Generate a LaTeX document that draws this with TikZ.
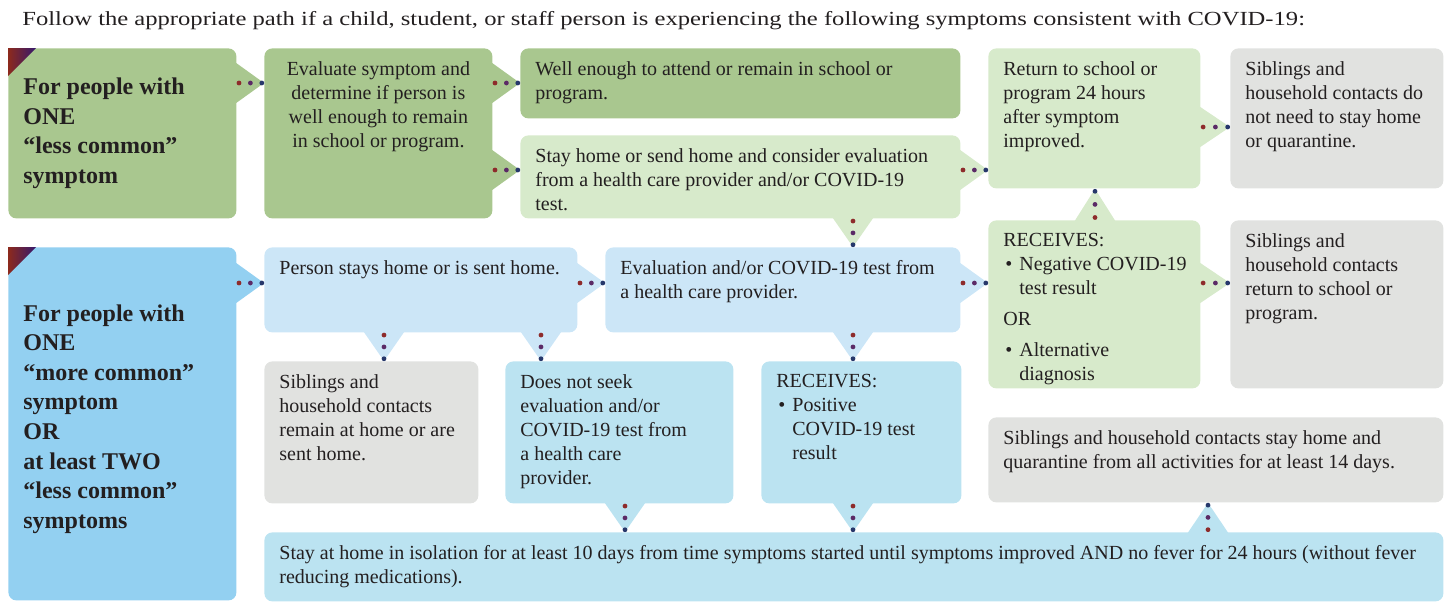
\documentclass[tikz,border=0pt]{standalone}
\usepackage{fontspec}
\setmainfont{Liberation Serif}
\usetikzlibrary{calc}
\definecolor{ink}{HTML}{231F20}
\definecolor{dkgreen}{HTML}{A9C78F}
\definecolor{ltgreen}{HTML}{D7EACB}
\definecolor{dkblue}{HTML}{93D0F1}
\definecolor{ltblue}{HTML}{CCE6F7}
\definecolor{cyblue}{HTML}{BBE3F1}
\definecolor{grey}{HTML}{E1E2E0}
\definecolor{dotred}{HTML}{8E2B2B}
\definecolor{dotpur}{HTML}{5B2A66}
\definecolor{dotnav}{HTML}{27386B}
\definecolor{cornerA}{HTML}{8D2A1C}
\definecolor{cornerB}{HTML}{35186E}
% box contents: width and height in pixels of the reference
\newcommand\cell[4][t]{\parbox[t][\dimexpr#3pt/2-13pt\relax][#1]{\dimexpr#2pt/2-15pt\relax}{\raggedright#4}}
\newcommand\link[3]{%
  \coordinate (b) at ($(#1)!-1pt!(#2)$);
  \fill[#3] ($(b)!10.5pt!90:(#2)$) -- (#2) -- ($(b)!10.5pt!-90:(#2)$) -- cycle;
  \foreach \f/\c in {.08/dotred,.5/dotpur,.92/dotnav}
    \fill[\c] ($(#1)!\f!(#2)$) circle (1.2pt);}
\newcommand\itm[1]{\par\hangindent=8pt\hangafter=1\hspace*{1pt}\makebox[7pt][l]{\textbullet}#1\par}
\begin{document}
\begin{tikzpicture}[x=.5pt,y=-.5pt,
  box/.style={anchor=north west,rounded corners=4pt,inner xsep=7.5pt,inner ysep=6.5pt,text=ink,font=\fontsize{10}{12}\selectfont},
  head/.style={box,font=\fontsize{12}{14.8}\selectfont\bfseries}]
\useasboundingbox (0,0) rectangle (1448,602);
\node[anchor=west,inner sep=0,text=ink,font=\fontsize{10}{12}\selectfont] (title) at (22,21) {\scalebox{1.23}[1]{Follow the appropriate path if a child, student, or staff person is experiencing the following symptoms consistent with COVID-19:}};

\node[head,fill=dkgreen] (less) at (8,48) {\cell[c]{228}{170}{For people with\\ONE\\“less common”\\symptom}};
\node[box,fill=dkgreen] (eval) at (264,48) {\cell{228}{170}{\centering Evaluate symptom and\\determine if person is\\well enough to remain\\in school or program.}};
\node[box,fill=dkgreen] (well) at (520,48) {\cell{440}{70}{Well enough to attend or remain in school or\\program.}};
\node[box,fill=ltgreen] (stay) at (520,135) {\cell{440}{83}{Stay home or send home and consider evaluation\\from a health care provider and/or COVID-19\\test.}};
\node[box,fill=ltgreen] (back) at (988,48) {\cell{212}{140}{Return to school or\\program 24 hours\\after symptom\\improved.}};
\node[box,fill=grey] (sibok) at (1230,48) {\cell{213}{140}{Siblings and\\household contacts do\\not need to stay home\\or quarantine.}};

\node[head,fill=dkblue] (more) at (8,247) {\cell[c]{228}{353}{For people with\\ONE\\“more common”\\symptom\\OR\\at least TWO\\“less common”\\symptoms\vspace{5pt}}};
\node[box,fill=ltblue] (sent) at (264,247) {\cell{313}{85}{Person stays home or is sent home.}};
\node[box,fill=ltblue] (test) at (605,247) {\cell{355}{85}{Evaluation and/or COVID-19 test from\\a health care provider.}};
\node[box,fill=ltgreen] (neg) at (988,220) {\cell{212}{168}{RECEIVES:\itm{\mbox{Negative COVID-19}\newline test result}\vspace{3.5pt}OR\par\vspace{3.5pt}\itm{Alternative\newline diagnosis}}};
\node[box,fill=grey] (sibret) at (1230,220) {\cell{213}{168}{Siblings and\\household contacts\\return to school or\\program.}};

\node[box,fill=grey] (sibhome) at (264,361) {\cell{214}{142}{Siblings and\\household contacts\\remain at home or are\\sent home.}};
\node[box,fill=cyblue] (noseek) at (505,361) {\cell{228}{142}{Does not seek\\evaluation and/or\\COVID-19 test from\\a health care\\provider.}};
\node[box,fill=cyblue] (pos) at (761,361) {\cell{200}{142}{RECEIVES:\itm{Positive\newline COVID-19 test\newline result}}};
\node[box,fill=grey] (quar) at (988,417) {\cell{455}{85}{Siblings and household contacts stay home and\\quarantine from all activities for at least 14 days.}};
\node[box,fill=cyblue] (iso) at (264,532) {\cell{1179}{69}{Stay at home in isolation for at least 10 days from time symptoms started until symptoms improved AND no fever for 24 hours (without fever\\reducing medications).}};

\foreach \n in {less,more}
  \shade[left color=cornerA,right color=cornerB] (\n.north west) -- ++(28,0) -- ++(-28,28) -- cycle;

\link{less.east |- 0,83}{eval.west |- 0,83}{dkgreen}
\link{eval.east |- 0,83}{well.west |- 0,83}{dkgreen}
\link{eval.east |- 0,170}{stay.west |- 0,170}{dkgreen}
\link{stay.east |- 0,170}{back.west |- 0,170}{ltgreen}
\link{back.east |- 0,127}{sibok.west |- 0,127}{ltgreen}
\link{stay.south -| 853,0}{test.north -| 853,0}{ltgreen}
\link{neg.north -| 1095,0}{back.south -| 1095,0}{ltgreen}
\link{more.east |- 0,283}{sent.west |- 0,283}{dkblue}
\link{sent.east |- 0,283}{test.west |- 0,283}{ltblue}
\link{test.east |- 0,283}{neg.west |- 0,283}{ltblue}
\link{neg.east |- 0,283}{sibret.west |- 0,283}{ltgreen}
\link{sent.south -| 384,0}{sibhome.north -| 384,0}{ltblue}
\link{sent.south -| 541,0}{noseek.north -| 541,0}{ltblue}
\link{test.south -| 853,0}{pos.north -| 853,0}{ltblue}
\link{noseek.south -| 625,0}{iso.north -| 625,0}{cyblue}
\link{pos.south -| 853,0}{iso.north -| 853,0}{cyblue}
\link{iso.north -| 1208,0}{quar.south -| 1208,0}{cyblue}
\end{tikzpicture}
\end{document}
